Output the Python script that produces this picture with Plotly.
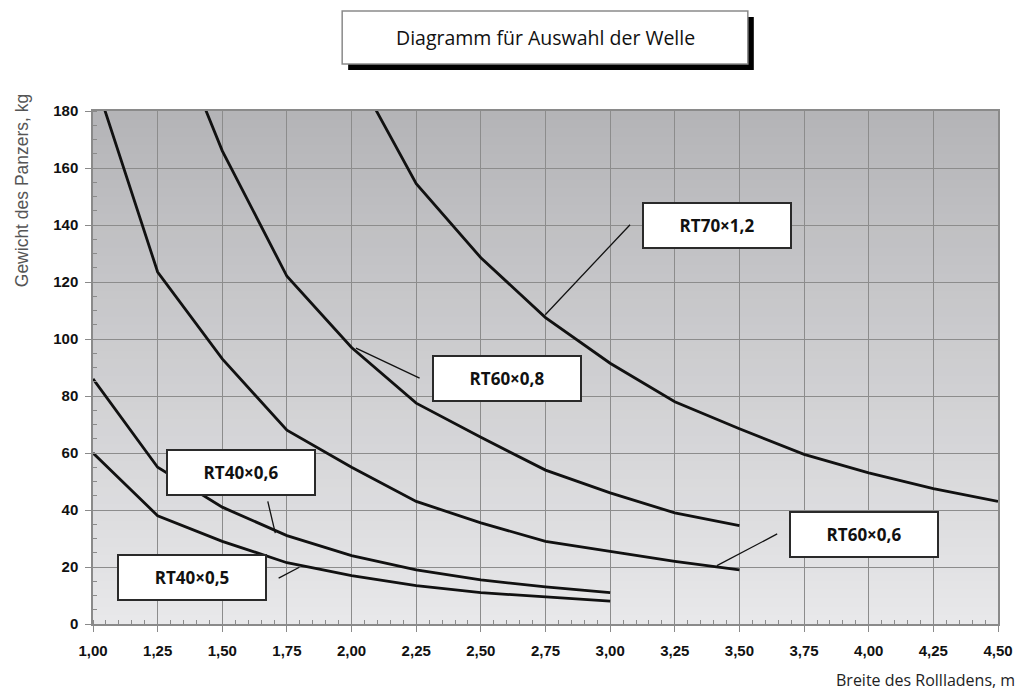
import plotly.graph_objects as go

# ---- data ----
x_rt40_05 = [1.00, 1.25, 1.50, 1.75, 2.00, 2.25, 2.50, 2.75, 3.00]
y_rt40_05 = [60, 38, 29, 21.5, 17, 13.5, 11, 9.5, 8]

x_rt40_06 = [1.00, 1.25, 1.50, 1.75, 2.00, 2.25, 2.50, 2.75, 3.00]
y_rt40_06 = [86, 55, 41, 31, 24, 19, 15.5, 13, 11]

x_rt60_06 = [1.00, 1.25, 1.50, 1.75, 2.00, 2.25, 2.50, 2.75, 3.00, 3.25, 3.50]
y_rt60_06 = [193, 123.5, 93, 68, 55, 43, 35.5, 29, 25.5, 22, 19]

x_rt60_08 = [1.25, 1.50, 1.75, 2.00, 2.25, 2.50, 2.75, 3.00, 3.25, 3.50]
y_rt60_08 = [222, 166, 122, 97, 77.5, 65.5, 54, 46, 39, 34.5]

x_rt70_12 = [2.00, 2.25, 2.50, 2.75, 3.00, 3.25, 3.50, 3.75, 4.00, 4.25, 4.50]
y_rt70_12 = [196, 154.5, 128.5, 107.5, 91.5, 78, 68.5, 59.5, 53, 47.5, 43]

series_names = ["RT40×0,5", "RT40×0,6", "RT60×0,6", "RT60×0,8", "RT70×1,2"]

x_tickvals = [1.00, 1.25, 1.50, 1.75, 2.00, 2.25, 2.50, 2.75, 3.00, 3.25, 3.50, 3.75, 4.00, 4.25, 4.50]
y_tickvals = [0, 20, 40, 60, 80, 100, 120, 140, 160, 180]

title_text = "Diagramm für Auswahl der Welle"
x_title = "Breite des Rollladens, m"
y_title = "Gewicht des Panzers, kg"

# ---- label placement (box center, leader start, leader end) in data coords ----
label_layout = {
    "RT70×1,2": dict(cx=3.413, cy=139.9, lx0=3.077, ly0=140.1, lx1=2.749, ly1=108.5),
    "RT60×0,8": dict(cx=2.601, cy=86.0, lx0=2.263, ly0=86.3, lx1=2.017, ly1=96.8),
    "RT40×0,6": dict(cx=1.572, cy=53.0, lx0=1.676, ly0=43.0, lx1=1.705, ly1=31.9),
    "RT40×0,5": dict(cx=1.384, cy=16.2, lx0=1.718, ly0=16.1, lx1=1.798, ly1=19.9),
    "RT60×0,6": dict(cx=3.982, cy=31.3, lx0=3.646, ly0=31.6, lx1=3.413, ly1=20.5),
}

W, H = 1025, 692
PL, PR, PT, PB = 93, 1001, 111, 624  # plot area edges in pixels
ML, MR, MT, MB = PL, W - PR, PT, H - PB
PW, PH = PR - PL, PB - PT


def px_to_paper(px, py):
    return (px - PL) / PW, (PB - py) / PH


fig = go.Figure()

all_series = [
    (x_rt40_05, y_rt40_05),
    (x_rt40_06, y_rt40_06),
    (x_rt60_06, y_rt60_06),
    (x_rt60_08, y_rt60_08),
    (x_rt70_12, y_rt70_12),
]
for name, (xs, ys) in zip(series_names, all_series):
    fig.add_trace(go.Scatter(x=xs, y=ys, mode="lines", name=name,
                             line=dict(color="#111111", width=2.8),
                             showlegend=False, hoverinfo="x+y+name"))

shapes = []
# vertical gradient background of plot area
n_bands = 60
top_c = (180, 180, 183)
bot_c = (232, 232, 234)
for i in range(n_bands):
    t = (i + 0.5) / n_bands
    c = tuple(round(bot_c[k] + (top_c[k] - bot_c[k]) * t) for k in range(3))
    shapes.append(dict(type="rect", xref="x domain", yref="y domain",
                       x0=0, x1=1, y0=i / n_bands, y1=(i + 1) / n_bands + 0.002,
                       fillcolor="rgb(%d,%d,%d)" % c, line=dict(width=0), layer="below"))

# leader lines
for name in series_names:
    d = label_layout[name]
    shapes.append(dict(type="line", xref="x", yref="y", x0=d["lx0"], y0=d["ly0"],
                       x1=d["lx1"], y1=d["ly1"], line=dict(color="#111111", width=1.3)))

# title box with shadow
sx0, sy0 = px_to_paper(349, 70)
sx1, sy1 = px_to_paper(756, 17)
shapes.append(dict(type="rect", xref="paper", yref="paper", x0=sx0, y0=sy0, x1=sx1, y1=sy1,
                   fillcolor="#000000", line=dict(width=0)))
bx0, by0 = px_to_paper(343, 64)
bx1, by1 = px_to_paper(750, 11)
shapes.append(dict(type="rect", xref="paper", yref="paper", x0=bx0, y0=by0, x1=bx1, y1=by1,
                   fillcolor="#ffffff", line=dict(color="#8a8a8a", width=1.5)))

annotations = []
tx, ty = px_to_paper(546.5, 38)
annotations.append(dict(text=title_text, xref="paper", yref="paper", x=tx, y=ty,
                        showarrow=False, xanchor="center", yanchor="middle",
                        font=dict(family="Open Sans", size=19.5, color="#111111", weight=500)))

for name in series_names:
    d = label_layout[name]
    annotations.append(dict(text="<b>%s</b>" % name, xref="x", yref="y", x=d["cx"], y=d["cy"],
                            showarrow=False, xanchor="center", yanchor="middle",
                            width=142, height=39, borderpad=2,
                            bgcolor="#ffffff", bordercolor="#2a2a2a", borderwidth=2,
                            font=dict(family="Open Sans", size=17, color="#111111")))

# axis titles
ax, ay = px_to_paper(1020, 680)
annotations.append(dict(text=x_title, xref="paper", yref="paper", x=ax, y=ay,
                        showarrow=False, xanchor="right", yanchor="middle",
                        font=dict(family="Open Sans", size=16, color="#222222")))
yx, yy = px_to_paper(22, 190)
annotations.append(dict(text=y_title, xref="paper", yref="paper", x=yx, y=yy,
                        showarrow=False, xanchor="center", yanchor="middle", textangle=-90,
                        font=dict(family="Liberation Sans", size=17.5, color="#555555")))

fig.update_layout(
    width=W, height=H, autosize=False,
    margin=dict(l=ML, r=MR, t=MT, b=MB),
    paper_bgcolor="#ffffff",
    plot_bgcolor="rgba(0,0,0,0)",
    separators=",.",
    shapes=shapes,
    annotations=annotations,
    showlegend=False,
)

fig.update_xaxes(
    range=[1.0, 4.5], tickvals=x_tickvals, tickformat=".2f",
    showgrid=True, gridcolor="#8c8c8c", gridwidth=1,
    showline=True, linecolor="#8a8a8a", linewidth=1.5, mirror=True,
    ticks="outside", ticklen=6, tickcolor="#8a8a8a", ticklabelstandoff=6,
    tickfont=dict(family="Liberation Sans", size=15, color="#111111", weight="bold"),
    minor=dict(dtick=0.05, ticks="inside", ticklen=4, tickcolor="#8a8a8a", showgrid=False),
    zeroline=False,
)
fig.update_yaxes(
    range=[0, 180], tickvals=y_tickvals,
    showgrid=True, gridcolor="#8c8c8c", gridwidth=1,
    showline=True, linecolor="#8a8a8a", linewidth=1.5, mirror=True,
    ticks="outside", ticklen=6, tickcolor="#8a8a8a", ticklabelstandoff=4,
    tickfont=dict(family="Liberation Sans", size=15, color="#111111", weight="bold"),
    minor=dict(dtick=5, ticks="inside", ticklen=4, tickcolor="#8a8a8a", showgrid=False),
    zeroline=False,
)

page_fix = ("document.body.style.margin='0';document.body.style.overflow='hidden';"
            "document.documentElement.style.overflow='hidden';")
fig.write_html("out.html", config={"responsive": False, "displayModeBar": False},
               post_script=page_fix)
